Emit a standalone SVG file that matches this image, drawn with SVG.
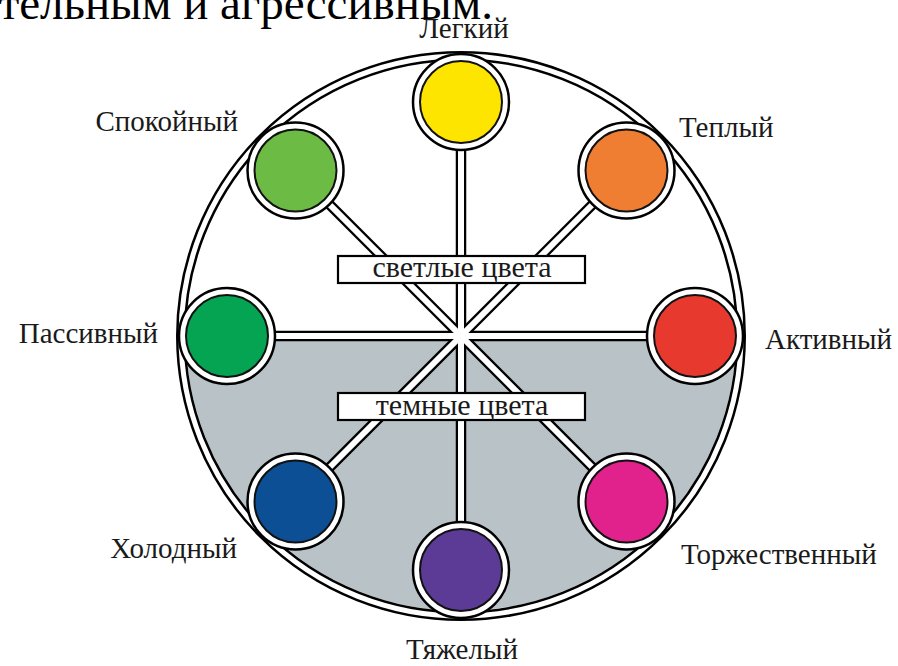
<svg xmlns="http://www.w3.org/2000/svg" width="898" height="666" viewBox="0 0 898 666">
<style>
text{font-family:"Liberation Serif","Times New Roman",serif;fill:#1a1a1a}
.lbl{font-size:29px}
.box text{font-size:30px;text-anchor:middle}
.ring{fill:#fff;stroke:#000;stroke-width:2.5}
.dot{stroke:#111;stroke-width:2}
.sb{stroke:#000;stroke-width:10.5;stroke-linecap:butt}
.sw{stroke:#fff;stroke-width:6;stroke-linecap:butt}
.boxr{fill:#fff;stroke:#000;stroke-width:2.2}
</style>
<rect width="898" height="666" fill="#fff"/>
<text x="493" y="19" style="font-size:47px;text-anchor:end;fill:#000">тельным и агрессивным.</text>
<g id="wheel">
<circle cx="461" cy="336" r="275" fill="#fff"/>
<path d="M186 336 A275 275 0 0 0 736 336 Z" fill="#b9c2c7"/>
<circle cx="461" cy="336" r="280" fill="none" stroke="#000" stroke-width="10"/>
<circle cx="461" cy="336" r="280" fill="none" stroke="#fff" stroke-width="5"/>
</g>
<g id="connectors">
<line class="sb" x1="227" y1="336" x2="695" y2="336"/>
<line class="sb" x1="461" y1="102" x2="461" y2="570"/>
<line class="sb" x1="295.5" y1="170.5" x2="626.5" y2="501.5"/>
<line class="sb" x1="626.5" y1="170.5" x2="295.5" y2="501.5"/>
<line class="sw" x1="227" y1="336" x2="695" y2="336"/>
<line class="sw" x1="461" y1="102" x2="461" y2="570"/>
<line class="sw" x1="295.5" y1="170.5" x2="626.5" y2="501.5"/>
<line class="sw" x1="626.5" y1="170.5" x2="295.5" y2="501.5"/>
</g>
<g id="light" class="box">
<rect class="boxr" x="338" y="256" width="247" height="27"/>
<text x="462" y="277">светлые цвета</text>
</g>
<g id="dark" class="box">
<rect class="boxr" x="338" y="393" width="247" height="27"/>
<text x="462" y="415">темные цвета</text>
</g>
<g id="legkiy">
<circle class="ring" cx="461" cy="102" r="48"/>
<circle class="dot" cx="461" cy="102" r="41" fill="#fde500"/>
<text class="lbl" x="464" y="38" text-anchor="middle">Легкий</text>
</g>
<g id="teplyy">
<circle class="ring" cx="626.5" cy="170.5" r="48"/>
<circle class="dot" cx="626.5" cy="170.5" r="41" fill="#f07e32"/>
<text class="lbl" x="679" y="137">Теплый</text>
</g>
<g id="aktivnyy">
<circle class="ring" cx="695" cy="336" r="48"/>
<circle class="dot" cx="695" cy="336" r="41" fill="#e8392f"/>
<text class="lbl" x="765" y="349">Активный</text>
</g>
<g id="torzhestvennyy">
<circle class="ring" cx="626.5" cy="501.5" r="48"/>
<circle class="dot" cx="626.5" cy="501.5" r="41" fill="#e2228c"/>
<text class="lbl" x="681" y="564">Торжественный</text>
</g>
<g id="tyazhelyy">
<circle class="ring" cx="461" cy="570" r="48"/>
<circle class="dot" cx="461" cy="570" r="41" fill="#5c3b97"/>
<text class="lbl" x="462" y="659" text-anchor="middle">Тяжелый</text>
</g>
<g id="kholodnyy">
<circle class="ring" cx="295.5" cy="501.5" r="48"/>
<circle class="dot" cx="295.5" cy="501.5" r="41" fill="#0d4f95"/>
<text class="lbl" x="237" y="558" text-anchor="end">Холодный</text>
</g>
<g id="passivnyy">
<circle class="ring" cx="227" cy="336" r="48"/>
<circle class="dot" cx="227" cy="336" r="41" fill="#05a452"/>
<text class="lbl" x="158" y="343" text-anchor="end">Пассивный</text>
</g>
<g id="spokoynyy">
<circle class="ring" cx="295.5" cy="170.5" r="48"/>
<circle class="dot" cx="295.5" cy="170.5" r="41" fill="#6cbb45"/>
<text class="lbl" x="238" y="131" text-anchor="end">Спокойный</text>
</g>
</svg>
